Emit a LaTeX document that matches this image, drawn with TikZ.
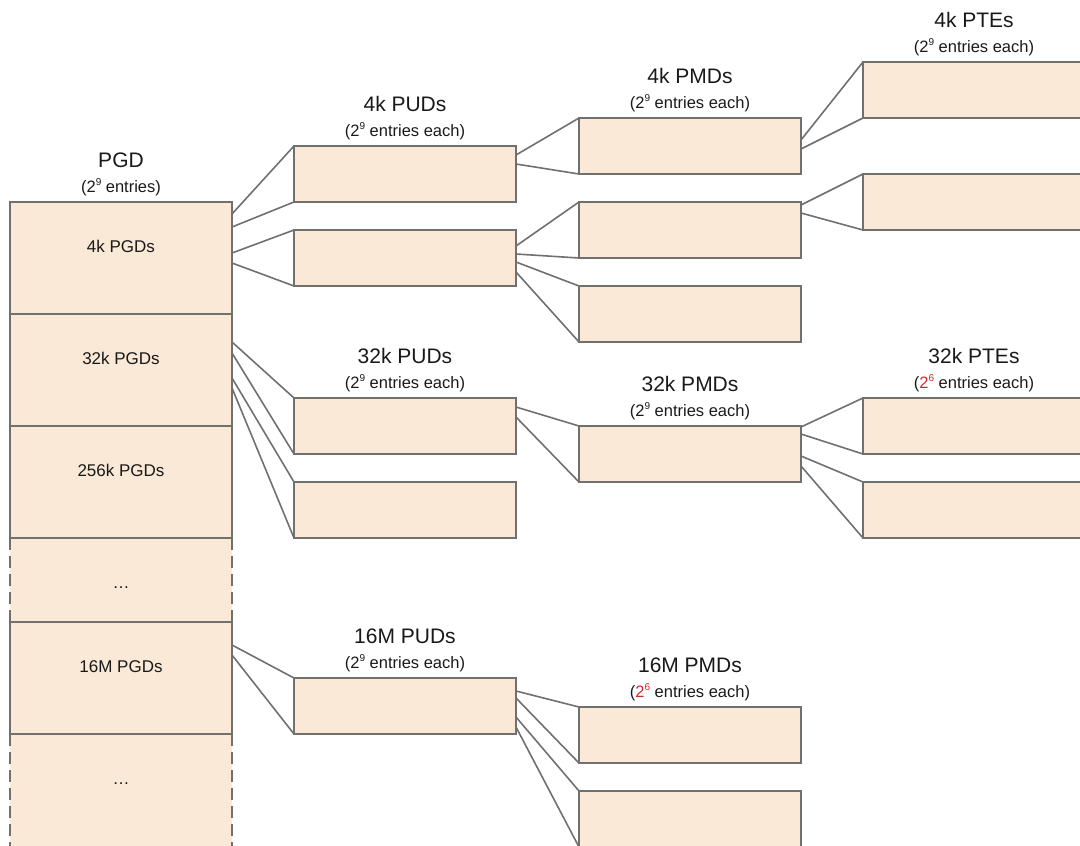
\documentclass[tikz,border=0pt]{standalone}
\usepackage{fontspec}
\setmainfont{Liberation Sans}
\usetikzlibrary{positioning}
\definecolor{boxfill}{RGB}{250,233,214}
\definecolor{boxline}{RGB}{112,112,112}
\definecolor{txtcol}{RGB}{25,25,25}
\definecolor{hlred}{RGB}{214,40,45}
\newcommand{\supnum}[1]{\raisebox{0.75ex}{\fontsize{10}{10}\selectfont #1}}

\begin{document}
\begin{tikzpicture}[
	x=1pt,y=-1pt,
	tbl/.style={draw=boxline,fill=boxfill,line width=2.2pt,minimum width=222pt,minimum height=56pt,inner sep=0pt,outer sep=0pt,anchor=north west},
	gaprow/.style={tbl,draw=none},
	head/.style={font=\fontsize{21}{25}\selectfont,text=txtcol,anchor=base,inner sep=0pt},
	subhead/.style={font=\fontsize{16.5}{20}\selectfont,text=txtcol,anchor=base,inner sep=0pt},
	rowtxt/.style={font=\fontsize{17}{20}\selectfont,text=txtcol,anchor=base,inner sep=0pt},
	conn/.style={draw=boxline,line width=1.6pt},
	sidedash/.style={draw=boxline,line width=2.2pt,dash pattern=on 12pt off 6pt}
	]
	\useasboundingbox (0,0) rectangle (1080,846);
	
	% PGD column
	\node[gaprow,minimum height=84pt] at (10,538) (pgdD) {};
	\node[gaprow,minimum height=130pt] at (10,734) (pgdF) {};
	\draw[sidedash] (pgdD.north west) -- (pgdD.south west);
	\draw[sidedash] (pgdD.north east) -- (pgdD.south east);
	\draw[sidedash] (pgdF.north west) -- (pgdF.south west);
	\draw[sidedash] (pgdF.north east) -- (pgdF.south east);
	\node[tbl,minimum height=112pt] at (10,202) (pgdA) {};
	\node[tbl,minimum height=112pt] at (10,314) (pgdB) {};
	\node[tbl,minimum height=112pt] at (10,426) (pgdC) {};
	\node[tbl,minimum height=112pt] at (10,622) (pgdE) {};
	
	\node[rowtxt] at ([yshift=-50pt]pgdA.north) (lblA) {4k PGDs};
	\node[rowtxt] at ([yshift=-50pt]pgdB.north) (lblB) {32k PGDs};
	\node[rowtxt] at ([yshift=-50pt]pgdC.north) (lblC) {256k PGDs};
	\node[rowtxt] at ([yshift=-50pt]pgdD.north) (lblD) {\dots};
	\node[rowtxt] at ([yshift=-50pt]pgdE.north) (lblE) {16M PGDs};
	\node[rowtxt] at ([yshift=-50pt]pgdF.north) (lblF) {\dots};
	
	\node[subhead] at ([yshift=9.5pt]pgdA.north) (pgdsub) {(2\supnum{9} entries)};
	\node[head] at ([yshift=34.5pt]pgdA.north) (pgdhead) {PGD};
	
	% PUD column
	\node[tbl] at (294,146) (pud4a) {};
	\node[tbl] at (294,230) (pud4b) {};
	\node[tbl] at (294,398) (pud32a) {};
	\node[tbl] at (294,482) (pud32b) {};
	\node[tbl] at (294,678) (pud16) {};
	
	\node[subhead] at ([yshift=9.5pt]pud4a.north) (pud4sub) {(2\supnum{9} entries each)};
	\node[head] at ([yshift=34.5pt]pud4a.north) (pud4head) {4k PUDs};
	\node[subhead] at ([yshift=9.5pt]pud32a.north) (pud32sub) {(2\supnum{9} entries each)};
	\node[head] at ([yshift=34.5pt]pud32a.north) (pud32head) {32k PUDs};
	\node[subhead] at ([yshift=9.5pt]pud16.north) (pud16sub) {(2\supnum{9} entries each)};
	\node[head] at ([yshift=34.5pt]pud16.north) (pud16head) {16M PUDs};
	
	% PMD column
	\node[tbl] at (579,118) (pmd4a) {};
	\node[tbl] at (579,202) (pmd4b) {};
	\node[tbl] at (579,286) (pmd4c) {};
	\node[tbl] at (579,426) (pmd32) {};
	\node[tbl] at (579,707) (pmd16a) {};
	\node[tbl] at (579,791) (pmd16b) {};
	
	\node[subhead] at ([yshift=9.5pt]pmd4a.north) (pmd4sub) {(2\supnum{9} entries each)};
	\node[head] at ([yshift=34.5pt]pmd4a.north) (pmd4head) {4k PMDs};
	\node[subhead] at ([yshift=9.5pt]pmd32.north) (pmd32sub) {(2\supnum{9} entries each)};
	\node[head] at ([yshift=34.5pt]pmd32.north) (pmd32head) {32k PMDs};
	\node[subhead] at ([yshift=9.5pt]pmd16a.north) (pmd16sub) {(\textcolor{hlred}{2\supnum{6}} entries each)};
	\node[head] at ([yshift=34.5pt]pmd16a.north) (pmd16head) {16M PMDs};
	
	% PTE column
	\node[tbl] at (863,62) (pte4a) {};
	\node[tbl] at (863,174) (pte4b) {};
	\node[tbl] at (863,398) (pte32a) {};
	\node[tbl] at (863,482) (pte32b) {};
	
	\node[subhead] at ([yshift=9.5pt]pte4a.north) (pte4sub) {(2\supnum{9} entries each)};
	\node[head] at ([yshift=34.5pt]pte4a.north) (pte4head) {4k PTEs};
	\node[subhead] at ([yshift=9.5pt]pte32a.north) (pte32sub) {(\textcolor{hlred}{2\supnum{6}} entries each)};
	\node[head] at ([yshift=34.5pt]pte32a.north) (pte32head) {32k PTEs};
	
	% PGD -> PUD
	\draw[conn] ([yshift=-12pt]pgdA.north east) -- (pud4a.north west);
	\draw[conn] ([yshift=-25pt]pgdA.north east) -- (pud4a.south west);
	\draw[conn] ([yshift=-51pt]pgdA.north east) -- (pud4b.north west);
	\draw[conn] ([yshift=-61pt]pgdA.north east) -- (pud4b.south west);
	
	\draw[conn] ([yshift=-28pt]pgdB.north east) -- (pud32a.north west);
	\draw[conn] ([yshift=-39pt]pgdB.north east) -- (pud32a.south west);
	\draw[conn] ([yshift=-64pt]pgdB.north east) -- (pud32b.north west);
	\draw[conn] ([yshift=-74pt]pgdB.north east) -- (pud32b.south west);
	
	\draw[conn] ([yshift=-23pt]pgdE.north east) -- (pud16.north west);
	\draw[conn] ([yshift=-33pt]pgdE.north east) -- (pud16.south west);
	
	% PUD -> PMD
	\draw[conn] ([yshift=-9pt]pud4a.north east) -- (pmd4a.north west);
	\draw[conn] ([yshift=-18pt]pud4a.north east) -- (pmd4a.south west);
	\draw[conn] ([yshift=-16pt]pud4b.north east) -- (pmd4b.north west);
	\draw[conn] ([yshift=-24pt]pud4b.north east) -- (pmd4b.south west);
	\draw[conn] ([yshift=-32pt]pud4b.north east) -- (pmd4c.north west);
	\draw[conn] ([yshift=-42pt]pud4b.north east) -- (pmd4c.south west);
	
	\draw[conn] ([yshift=-9pt]pud32a.north east) -- (pmd32.north west);
	\draw[conn] ([yshift=-19pt]pud32a.north east) -- (pmd32.south west);
	
	\draw[conn] ([yshift=-13pt]pud16.north east) -- (pmd16a.north west);
	\draw[conn] ([yshift=-20pt]pud16.north east) -- (pmd16a.south west);
	\draw[conn] ([yshift=-39pt]pud16.north east) -- (pmd16b.north west);
	\draw[conn] ([yshift=-49pt]pud16.north east) -- (pmd16b.south west);
	
	% PMD -> PTE
	\draw[conn] ([yshift=-22pt]pmd4a.north east) -- (pte4a.north west);
	\draw[conn] ([yshift=-31pt]pmd4a.north east) -- (pte4a.south west);
	\draw[conn] ([yshift=-3pt]pmd4b.north east) -- (pte4b.north west);
	\draw[conn] ([yshift=-11pt]pmd4b.north east) -- (pte4b.south west);
	
	\draw[conn] ([yshift=-1pt]pmd32.north east) -- (pte32a.north west);
	\draw[conn] ([yshift=-8pt]pmd32.north east) -- (pte32a.south west);
	\draw[conn] ([yshift=-30pt]pmd32.north east) -- (pte32b.north west);
	\draw[conn] ([yshift=-40pt]pmd32.north east) -- (pte32b.south west);
\end{tikzpicture}
\end{document}
